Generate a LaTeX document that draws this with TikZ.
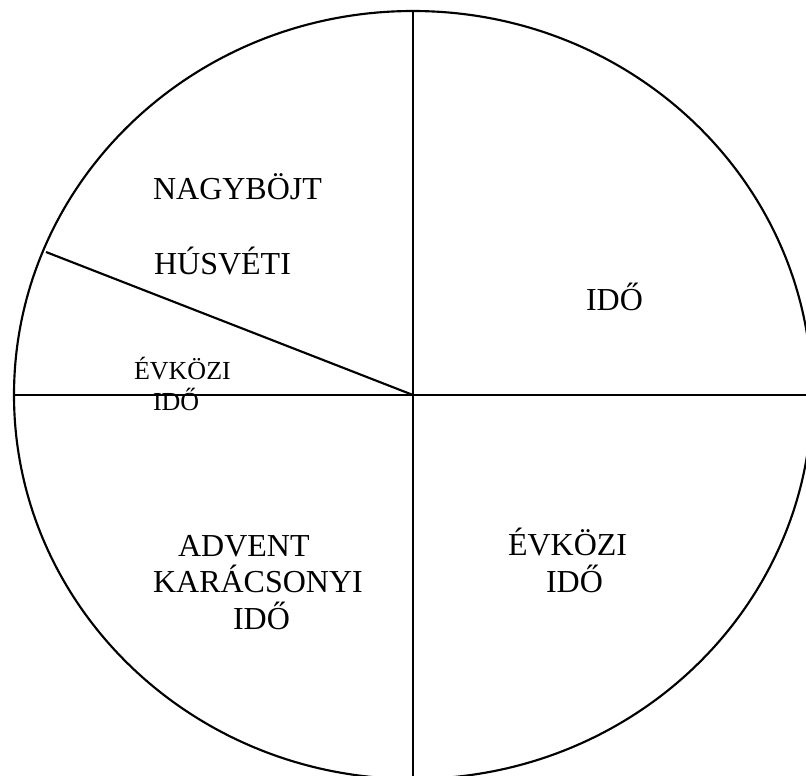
\documentclass[tikz,border=0pt]{standalone}
\usepackage{fontspec}
\setmainfont{Liberation Serif}
\begin{document}
\begin{tikzpicture}[x=0.75pt,y=-0.75pt,line width=1.6pt,
  lbl/.style={anchor=base west,inner sep=0pt,font=\fontsize{24}{27}\selectfont},
  small/.style={anchor=base west,inner sep=0pt,font=\fontsize{19.5}{22}\selectfont}]
\useasboundingbox (0,0) rectangle (806,775);
\coordinate (O) at (413,395);
\coordinate (T) at (413,11);
\coordinate (B) at (413,779);
\coordinate (L) at (14,395);
\coordinate (R) at (812,395);
\coordinate (D) at (46,252);
\draw (O) ellipse [x radius=399,y radius=384];
\draw (T) -- (B);
\draw (L) -- (R);
\draw (D) -- (O);
% upper left
\node[lbl] (nagyb) at (152,199) {NAGYBÖJT};
\node[lbl] (husv) at (153,274) {HÚSVÉTI};
\node[small] (evk1) at (133,379) {ÉVKÖZI};
\node[small] (ido1) at (152,410) {IDŐ};
% upper right
\node[lbl] (ido2) at (585,310) {IDŐ};
% lower half
\node[lbl] (adv) at (177,556) {ADVENT};
\node[lbl] (kar) at (152,592) {KARÁCSONYI};
\node[lbl] (ido3) at (232,629) {IDŐ};
\node[lbl] (evk2) at (507,555) {ÉVKÖZI};
\node[lbl] (ido4) at (545,592) {IDŐ};
\end{tikzpicture}
\end{document}
